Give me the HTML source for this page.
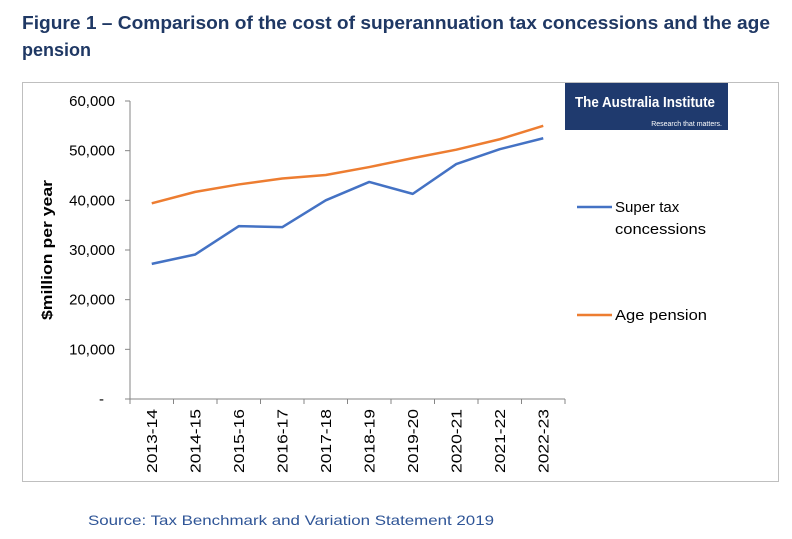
<!DOCTYPE html>
<html><head><meta charset="utf-8"><style>
body{margin:0;background:#fff;}
svg{display:block;font-family:"Liberation Sans",sans-serif;}
</style></head><body>
<svg id="chart" width="792" height="539" viewBox="0 0 792 539">
<text x="22" y="29" font-size="18" font-weight="bold" fill="#1f3864" textLength="748" lengthAdjust="spacingAndGlyphs">Figure 1 – Comparison of the cost of superannuation tax concessions and the age</text>
<text x="22" y="56" font-size="18" font-weight="bold" fill="#1f3864">pension</text>
<rect x="22.5" y="82.5" width="756" height="399" fill="none" stroke="#bfbfbf"/>
<g>
<rect x="565" y="83" width="163" height="47" fill="#1f3a6e"/>
<text x="575" y="107" font-size="15" fill="#fff" font-weight="bold" textLength="140" lengthAdjust="spacingAndGlyphs">The Australia Institute</text>
<text x="722" y="126" font-size="7" fill="#fff" text-anchor="end">Research that matters.</text>
</g>
<g id="axes"></g>
<g id="series"></g>
<text transform="translate(52,250) rotate(-90)" text-anchor="middle" font-size="15" font-weight="bold" fill="#000" textLength="140" lengthAdjust="spacingAndGlyphs">$million per year</text>
<g>
<line x1="577" y1="207" x2="612" y2="207" stroke="#4472c4" stroke-width="2.5"/>
<text x="615" y="212" font-size="15" fill="#000">Super tax</text>
<text x="615" y="234" font-size="15" fill="#000" textLength="91" lengthAdjust="spacingAndGlyphs">concessions</text>
<line x1="577" y1="315" x2="612" y2="315" stroke="#ed7d31" stroke-width="2.5"/>
<text x="615" y="320" font-size="15" fill="#000" textLength="92" lengthAdjust="spacingAndGlyphs">Age pension</text>
</g>
<text x="88" y="525" font-size="14" fill="#2f5597" textLength="406" lengthAdjust="spacingAndGlyphs">Source: Tax Benchmark and Variation Statement 2019</text>
</svg>
<script>
const categories=["2013-14","2014-15","2015-16","2016-17","2017-18","2018-19","2019-20","2020-21","2021-22","2022-23"];
const superTax=[27200,29100,34800,34600,40000,43700,41300,47300,50300,52500];
const agePension=[39400,41700,43200,44400,45100,46700,48500,50200,52300,55000];
const yTicks=[0,10000,20000,30000,40000,50000,60000];
const yTickLabels=["-","10,000","20,000","30,000","40,000","50,000","60,000"];
const NS="http://www.w3.org/2000/svg";
const x0=130,x1=565,yb=399,yt=101,ymax=60000;
const bw=(x1-x0)/categories.length;
function xs(i){return x0+bw*(i+0.5);}
function ys(v){return yb-(v/ymax)*(yb-yt);}
function mk(tag,attrs,parent){const e=document.createElementNS(NS,tag);for(const k in attrs)e.setAttribute(k,attrs[k]);parent.appendChild(e);return e;}
const ax=document.getElementById('axes');
let l=mk('line',{x1:x0,y1:yt,x2:x0,y2:yb,stroke:'#868686'},ax);


l=mk('line',{x1:x0,y1:yb,x2:x1,y2:yb,stroke:'#868686'},ax);


yTicks.forEach((v,i)=>{
 const t=mk('line',{x1:x0-5,y1:ys(v),x2:x0,y2:ys(v),stroke:'#868686'},ax);
 
 
 const tx=mk('text',{x:v===0?104:115,y:ys(v)+5,'text-anchor':'end','font-size':15,fill:'#000'},ax);
 tx.textContent=yTickLabels[i];
 
 
});
for(let i=0;i<=categories.length;i++){
 const t=mk('line',{x1:x0+bw*i,y1:yb,x2:x0+bw*i,y2:yb+5,stroke:'#868686'},ax);
 
 
}
categories.forEach((c,i)=>{
 const tx=mk('text',{transform:`translate(${xs(i)+5},${yb+10}) rotate(-90)`,'text-anchor':'end','font-size':15,fill:'#000',textLength:64,lengthAdjust:'spacingAndGlyphs'},ax);
 tx.textContent=c;
 
 
});
const sg=document.getElementById('series');
function line(data,color,name){
 const p=mk('polyline',{points:data.map((v,i)=>xs(i)+','+ys(v)).join(' '),fill:'none',stroke:color,'stroke-width':2.5,'stroke-linejoin':'round'},sg);
 
 
}
line(agePension,'#ed7d31','age-pension-line');
line(superTax,'#4472c4','super-tax-line');
</script>
</body></html>
